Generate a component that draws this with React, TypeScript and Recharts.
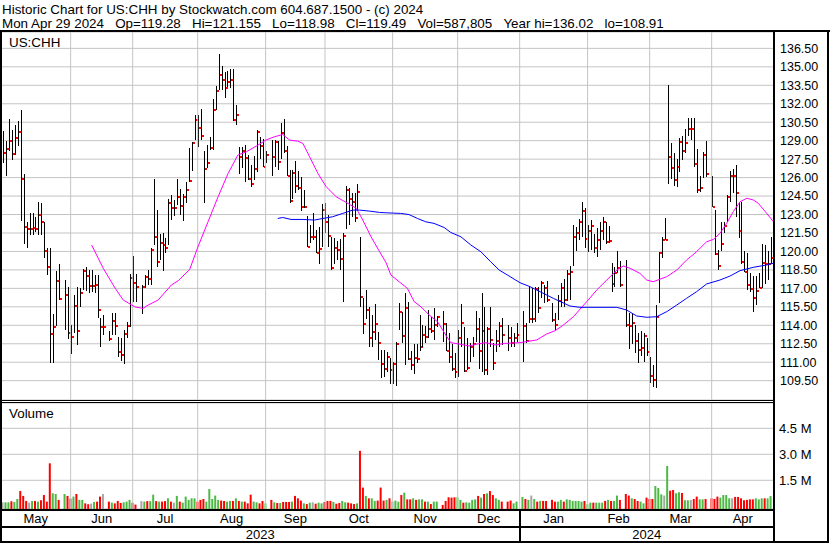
import React from 'react';
import { ComposedChart, Bar, Line, XAxis, YAxis, CartesianGrid, ReferenceLine, Cell } from 'recharts';

const FONT = '"Liberation Sans", Arial, Helvetica, sans-serif';

const titleLine1 = 'Historic Chart for US:CHH by Stockwatch.com 604.687.1500 - (c) 2024';
const titleLine2 = 'Mon Apr 29 2024   Op=119.28   Hi=121.155   Lo=118.98   Cl=119.49   Vol=587,805   Year hi=136.02   lo=108.91';
const symbolLabel = 'US:CHH';
const volumeLabel = 'Volume';

// weekday slots (from May 1 2023) that were market holidays: empty slots on the chart
const holidays = [20, 35, 46, 90, 148, 170, 175, 185, 210, 239];

// one row per trading day, month by month (May 2023 .. Apr 2024)
const highs = [
  129.8,129.0,130.8,129.9,130.3,130.6,131.5,126.3,122.4,123.1,123.1,122.8,124.0,123.9,122.4,120.25,120.3,114.9,118.4,119.0,117.7,117.1,
  114.0,116.5,117.1,117.0,118.6,118.75,118.5,118.5,118.1,118.1,114.56,114.83,113.5,114.97,115.0,113.07,113.0,113.6,114.3,118.2,119.6,
  118.2,117.3,118.1,118.5,120.25,125.9,123.4,121.4,121.5,121.06,124.25,124.6,124.2,125.85,125.1,124.65,125.66,128.37,128.9,131.07,
  131.07,131.6,128.15,128.64,129.3,132.35,133.45,136.02,135.05,134.6,134.65,134.8,134.8,131.88,128.5,128.5,128.64,127.83,127.0,127.75,129.86,129.3,129.15,
  128.15,129.05,129.05,129.0,130.4,130.75,128.56,126.6,126.6,127.34,126.55,126.07,124.98,122.9,122.14,123.09,121.74,122.0,123.85,123.9,
  122.95,121.19,121.08,120.84,121.0,121.46,125.31,125.12,124.71,124.71,125.52,121.14,116.19,116.86,115.5,114.83,115.73,113.43,112.0,112.0,111.86,111.32,
  111.05,112.68,115.79,115.11,116.6,115.86,111.92,112.46,112.46,114.8,114.02,113.94,115.25,114.7,115.38,114.76,115.17,114.16,113.35,112.46,111.78,
  113.62,115.7,113.83,112.94,112.53,113.07,115.17,114.62,116.6,115.5,113.88,115.5,112.53,113.62,114.29,114.56,114.02,113.88,113.35,114.16,
  115.19,114.16,117.14,117.0,117.14,117.14,117.62,117.27,117.62,115.78,114.97,116.46,117.41,117.73,118.48,118.81,122.14,122.0,122.63,123.98,123.5,
  122.14,122.55,121.38,121.87,122.41,122.76,122.41,122.06,119.08,118.76,120.05,119.25,119.3,114.97,114.97,114.02,113.35,113.5,113.35,113.0,
  111.46,110.78,115.64,119.98,121.19,122.68,133.51,128.78,127.96,127.5,129.23,129.42,129.91,130.88,130.88,130.88,128.29,126.12,128.1,128.99,
  126.12,123.36,120.11,122.41,122.41,124.58,126.55,126.66,127.01,124.04,124.04,120.03,119.84,118.21,118.0,118.0,118.21,120.6,120.52,120.03,121.155,
];
const lows = [
  127.2,126.1,128.2,127.4,127.8,128.6,122.5,120.6,120.3,121.3,121.3,121.6,121.3,121.3,119.5,118.1,110.95,110.9,113.95,116.05,113.6,112.9,
  111.7,113.35,112.4,115.5,116.9,116.8,116.6,116.7,116.6,114.6,112.2,113.2,112.7,113.2,113.2,111.4,111.06,110.85,112.95,113.9,115.9,
  115.9,114.9,117.0,117.27,117.27,120.5,118.76,119.3,118.4,119.84,120.5,122.55,122.9,123.8,122.95,122.5,123.9,125.66,126.5,129.04,
  128.5,129.04,123.9,126.75,128.23,128.23,131.5,133.1,133.15,132.43,133.38,133.24,130.6,130.26,126.3,126.74,125.66,125.8,125.25,125.8,126.47,127.5,126.87,
  127.2,126.12,126.87,126.6,127.5,127.96,126.12,123.9,124.23,124.77,124.98,123.31,123.5,120.33,120.65,120.92,119.84,118.97,120.38,121.46,
  120.38,118.48,118.97,119.3,118.48,115.9,121.79,122.14,122.76,122.41,123.36,115.5,113.3,114.48,112.2,112.26,112.8,111.19,109.7,109.83,110.24,109.27,
  109.19,109.1,113.62,112.53,110.78,111.19,110.37,110.02,110.97,111.92,112.26,112.53,112.94,113.35,112.8,113.9,112.67,111.92,110.97,110.29,109.7,
  109.8,112.26,110.24,110.37,111.0,111.46,112.64,110.43,110.2,110.0,110.0,112.26,110.37,111.86,112.26,112.4,111.92,112.26,112.26,112.67,
  111.05,112.59,114.16,114.16,114.29,114.97,116.19,115.78,115.92,114.29,113.62,114.42,115.51,115.51,115.99,116.05,118.84,120.03,120.92,121.19,120.25,
  119.92,120.11,119.84,119.52,120.11,120.92,120.57,120.65,116.73,117.14,118.21,117.14,113.88,112.04,112.48,111.73,110.97,111.5,111.05,111.5,
  109.3,108.97,108.91,115.83,119.43,120.92,125.52,125.85,125.31,125.26,126.47,127.47,128.02,129.37,129.05,126.88,124.77,124.85,125.93,126.07,
  123.63,119.7,118.48,120.05,121.46,122.41,124.04,124.71,122.81,121.06,118.97,118.35,116.86,116.73,115.1,115.64,117.0,117.0,117.35,117.68,118.98,
];
const closes = [
  128.0,128.3,129.0,127.9,129.2,129.7,125.9,122.0,121.85,121.85,121.9,121.85,123.0,122.4,120.05,118.75,113.3,113.9,117.6,116.1,116.5,113.4,
  113.07,115.6,113.5,116.65,118.4,118.0,117.2,117.2,117.3,115.25,113.9,113.9,112.9,114.37,113.96,111.8,111.6,113.3,113.97,117.85,117.45,
  117.13,117.13,117.94,117.78,120.1,121.2,119.17,120.7,120.5,120.3,123.9,123.55,123.55,124.4,123.7,124.44,125.0,125.74,128.83,130.67,
  130.05,129.4,126.66,127.2,128.37,131.5,133.05,134.3,133.9,133.3,133.8,133.97,130.67,131.07,127.69,128.18,127.56,125.9,125.47,126.72,129.72,128.56,126.9,
  127.86,127.67,128.88,127.26,129.64,128.15,126.12,124.09,126.39,125.31,125.15,123.58,123.63,120.38,121.19,121.19,119.9,120.19,123.33,122.41,
  121.27,118.64,120.25,120.11,119.41,121.27,124.98,124.28,123.98,122.73,124.85,116.32,114.08,115.25,112.99,113.45,114.08,112.53,110.83,110.42,111.46,110.38,
  110.86,112.46,115.04,113.15,115.43,111.3,110.78,111.38,111.3,112.26,113.2,113.07,113.72,113.56,114.02,114.7,114.08,111.92,111.46,110.43,110.24,
  112.99,114.21,110.29,110.5,112.26,112.48,113.72,111.92,113.56,110.37,113.72,112.8,110.9,112.72,113.97,113.18,112.99,112.58,112.94,113.24,
  113.97,112.72,114.53,114.53,116.95,115.43,117.46,117.05,116.05,114.42,114.02,115.97,117.0,116.02,118.13,118.3,121.19,121.52,122.41,123.31,121.0,
  121.65,122.09,120.25,120.92,121.68,122.41,120.79,120.84,117.35,118.27,118.62,117.27,114.02,113.97,114.16,112.75,112.0,112.13,113.15,111.86,
  109.84,109.52,114.66,119.89,120.97,120.97,127.69,126.79,125.8,126.88,128.91,128.18,128.83,129.96,129.96,127.1,124.98,125.17,127.86,126.28,
  123.63,119.78,118.81,120.62,122.06,124.44,126.12,126.12,124.77,121.68,119.16,118.35,117.27,116.97,116.24,116.81,117.02,119.03,118.94,118.97,119.49,
];
// daily volume, millions of shares
const volumes = [
  0.23,0.23,0.23,0.29,0.25,0.42,0.88,0.6,0.31,0.21,0.31,0.31,0.27,0.35,0.65,0.27,2.48,0.75,0.71,0.37,0.71,0.6,
  0.44,0.56,0.71,0.37,0.37,0.17,0.12,0.15,0.25,0.27,0.56,0.71,0.27,0.21,0.17,0.31,0.19,0.23,0.27,0.37,0.2,
  0.1,0.3,0.27,0.3,0.3,0.67,0.3,0.27,0.27,0.3,0.46,0.27,0.21,0.6,0.27,0.21,0.56,0.37,0.46,0.46,
  0.27,0.37,0.42,0.27,1.0,0.42,0.62,0.37,0.33,0.31,0.27,0.31,0.31,0.46,0.31,0.27,0.27,0.17,0.67,0.27,0.23,0.17,0.31,
  0.17,0.37,0.23,0.19,0.19,0.25,0.25,0.25,0.27,0.6,0.46,0.33,0.17,0.13,0.21,0.23,0.15,0.21,0.17,0.25,
  0.31,0.31,0.25,0.15,0.19,0.31,0.23,0.21,0.17,0.13,0.17,3.2,1.08,0.6,0.46,0.46,0.31,0.33,1.08,0.33,0.37,0.46,
  0.27,0.33,0.27,0.65,0.79,0.4,0.4,0.46,0.37,0.4,0.4,0.27,0.27,0.13,0.27,0.27,0.08,0.31,0.52,0.5,0.52,
  0.52,0.37,0.21,0.23,0.21,0.37,0.4,0.6,0.5,0.71,0.75,0.88,0.65,0.46,0.37,0.27,0.27,0.33,0.17,0.27,
  0.54,0.42,0.37,0.62,0.42,0.27,0.31,0.31,0.31,0.37,0.27,0.27,0.37,0.27,0.4,0.37,0.31,0.31,0.31,0.27,0.31,
  0.12,0.21,0.21,0.21,0.21,0.21,0.31,0.37,0.31,0.31,0.62,0.37,0.71,0.62,0.46,0.42,0.31,0.27,0.17,0.5,
  0.42,0.42,1.17,1.06,0.69,0.62,2.33,0.9,0.94,0.75,0.81,0.77,0.35,0.35,0.37,0.42,0.56,0.4,0.4,0.42,
  0.46,0.42,0.56,0.5,0.65,0.65,0.46,0.46,0.54,0.54,0.46,0.35,0.37,0.4,0.4,0.46,0.4,0.46,0.46,0.46,0.59,
];

// moving averages: [weekday slot, value]
const magentaMA = [
  [30,120.52],[34,118.6],[38,117.0],[40.7,116.05],[42.3,115.83],[44.6,115.5],[47.4,115.37],[49.1,115.64],[52.5,116.05],[57,117.27],
  [59.3,117.62],[63.2,118.54],[66,120.38],[69.4,122.41],[72.8,124.44],[76.2,126.34],[79.5,127.83],[82.4,128.1],[86.3,128.64],[89,129.05],
  [91.9,129.32],[94.7,129.5],[97,129.05],[99.8,128.96],[101.5,128.78],[103.8,127.69],[106.6,126.34],[109.4,125.26],[112.8,124.44],[116.2,123.98],
  [119.6,123.5],[121.8,122.55],[124.6,121.19],[127.5,119.97],[129.7,119.08],[131.3,118.08],[134.1,117.54],[136.9,117.0],[139.2,115.92],[141.5,115.5],
  [144.3,114.83],[147.1,114.29],[149.9,113.2],[151.6,112.59],[154.4,112.48],[157.8,112.32],[160.6,112.48],[163.4,112.59],[166.8,112.4],[169.7,112.53],
  [175,112.59],[180.7,112.81],[184,113.29],[186.9,113.56],[189.7,114.02],[193.1,114.7],[197.6,115.92],[201,116.87],[204.4,117.68],[207.8,118.49],
  [210,118.82],[212.3,118.63],[215.6,118.22],[217.9,117.68],[220.1,117.54],[224.7,117.95],[228.1,118.49],[231.4,119.3],[234.8,119.98],[238.2,120.79],
  [240.5,120.98],[242.7,121.47],[245,122.29],[247.2,123.23],[249.5,124.04],[251.8,124.32],[254,124.18],[255.7,123.91],[258.5,123.1],[260.8,122.42],
];
const blueMA = [
  [93,122.68],[94.7,122.76],[97.5,122.6],[101.5,122.6],[105.4,122.55],[108.3,122.68],[111.6,122.82],[115,123.09],[118.4,123.36],[120.6,123.36],
  [124,123.28],[127.5,123.17],[129.7,123.14],[134.6,123.09],[137.4,123.0],[140.3,122.68],[143.1,122.41],[145.9,122.28],[149.3,121.95],[151.6,121.54],
  [155,121.19],[158.4,120.52],[161.8,119.97],[165.1,119.16],[168,118.48],[170.8,118.08],[175,117.46],[178.4,117.14],[181.8,116.73],[186.3,116.19],
  [191.9,115.57],[195.3,115.46],[207.8,115.46],[211.1,115.24],[214.5,114.76],[217.9,114.65],[221.3,114.7],[224.7,115.11],[228.1,115.65],[231.4,116.19],
  [234.8,116.73],[238.2,117.36],[242.7,117.68],[246.1,118.0],[249.5,118.44],[254,118.71],[258.5,118.9],[260.8,119.04],
];

const monthBoundaries = [22.9, 43.9, 65.9, 88.9, 109, 131.9, 153.9, 174.9, 197.9, 218.9, 239.9];
const monthNames = ['May', 'Jun', 'Jul', 'Aug', 'Sep', 'Oct', 'Nov', 'Dec', 'Jan', 'Feb', 'Mar', 'Apr'];
const yearBoundary = 174.9;
const yearNames = ['2023', '2024'];
const priceTicks = [109.5, 111, 112.5, 114, 115.5, 117, 118.5, 120, 121.5, 123, 124.5, 126, 127.5, 129, 130.5, 132, 133.5, 135, 136.5];
const volumeTicks = [1.5, 3.0, 4.5];

const X_DOMAIN: [number, number] = [-0.68, 261.0];
const PRICE_DOMAIN: [number, number] = [107.93, 137.83];
const VOL_DOMAIN: [number, number] = [-0.156, 5.96];

const GRID = '#c4c4c4';
const UP = '#4cb944';
const DOWN = '#ff0000';
const FLAT = '#a6a6a6';

// build table
const slots: number[] = [];
for (let w = 0; slots.length < highs.length; w++) {
  if (!holidays.includes(w)) slots.push(w);
}
const rows = highs.map((h, i) => ({
  x: slots[i],
  h,
  l: lows[i],
  c: closes[i],
  v: volumes[i],
  dir: i === 0 ? 0 : Math.sign(closes[i] - closes[i - 1]),
}));
const magentaData = magentaMA.map(([x, m]) => ({ x, m }));
const blueData = blueMA.map(([x, m]) => ({ x, m }));

const monthEdges = [X_DOMAIN[0], ...monthBoundaries, X_DOMAIN[1]];
const monthMids = monthNames.map((_, i) => (monthEdges[i] + monthEdges[i + 1]) / 2);
const yearEdges = [X_DOMAIN[0], yearBoundary, X_DOMAIN[1]];
const yearMids = yearNames.map((_, i) => (yearEdges[i] + yearEdges[i + 1]) / 2);

// keep runs of spaces visible in SVG text
const keepSpaces = (s: string) => s.replace(/ {2,}/g, (m) => ' ' + '\u00a0'.repeat(m.length - 1));

const OhlcShape = (props: any) => {
  const { x, y, width, height, payload } = props;
  if (x == null || y == null || !payload) return null;
  const cx = Math.round(x + width / 2);
  const top = Math.round(y);
  const bottom = Math.round(y + height);
  const span = payload.h - payload.l;
  const yc = span > 0 ? y + ((payload.h - payload.c) / span) * height : y;
  return (
    <g shapeRendering="crispEdges">
      <rect x={cx} y={top} width={1} height={Math.max(bottom - top, 1)} fill="#000" />
      <rect x={cx + 1} y={Math.round(yc) - 1} width={2} height={2} fill="#ff0000" />
    </g>
  );
};

const MonthTick = (props: any) => {
  const { x, y, payload } = props;
  const i = monthMids.indexOf(payload.value);
  return (
    <text x={x} y={y + 14} textAnchor="middle" fontFamily={FONT} fontSize={13} fill="#000">
      {monthNames[i] ?? ''}
    </text>
  );
};

const YearTick = (props: any) => {
  const { x, y, payload } = props;
  if (payload.value === yearBoundary) {
    return <rect x={Math.round(x) - 1} y={y - 17} width={2} height={32} fill="#000" />;
  }
  const i = yearMids.indexOf(payload.value);
  return (
    <text x={x} y={y + 13} textAnchor="middle" fontFamily={FONT} fontSize={13} fill="#000">
      {yearNames[i] ?? ''}
    </text>
  );
};

const colorOf = (d: number) => (d > 0 ? UP : d < 0 ? DOWN : FLAT);

export default function App() {
  return (
    <div style={{ position: 'absolute', left: 0, top: 0, width: 830, height: 543, background: '#fff', overflow: 'hidden' }}>
      <div style={{ position: 'absolute', left: 0, top: 32 }}>
        <ComposedChart width={830} height={368} data={rows} margin={{ top: 0, right: 0, bottom: 0, left: 1 }}>
          <XAxis dataKey="x" type="number" domain={X_DOMAIN} allowDataOverflow hide />
          <YAxis
            orientation="right"
            type="number"
            domain={PRICE_DOMAIN}
            allowDataOverflow
            ticks={priceTicks}
            interval={0}
            width={56}
            tickSize={0}
            tickMargin={6}
            tickLine={false}
            axisLine={{ stroke: '#000', strokeWidth: 2 }}
            tickFormatter={(v: number) => v.toFixed(2)}
            tick={{ fill: '#000', fontSize: 12.5, fontFamily: FONT }}
          />
          <CartesianGrid vertical={false} stroke={GRID} strokeWidth={1} />
          {monthBoundaries.map((b) => (
            <ReferenceLine key={b} x={b} stroke={GRID} strokeWidth={1} />
          ))}
          <Bar dataKey={(d: any) => [d.l, d.h]} shape={OhlcShape} barSize={1} isAnimationActive={false} />
          <Line data={magentaData} dataKey="m" type="linear" stroke="#ff00ff" strokeWidth={1} dot={false} activeDot={false} isAnimationActive={false} />
          <Line data={blueData} dataKey="m" type="linear" stroke="#0000ff" strokeWidth={1} dot={false} activeDot={false} isAnimationActive={false} />
        </ComposedChart>
      </div>
      <div style={{ position: 'absolute', left: 0, top: 403 }}>
        <ComposedChart width={830} height={140} data={rows} margin={{ top: 0, right: 0, bottom: 0, left: 1 }}>
          <XAxis
            xAxisId="m"
            dataKey="x"
            type="number"
            domain={X_DOMAIN}
            allowDataOverflow
            ticks={monthMids}
            interval={0}
            height={17}
            axisLine={false}
            tickLine={false}
            tickSize={0}
            tickMargin={0}
            tick={<MonthTick />}
          />
          <XAxis
            xAxisId="y"
            dataKey="x"
            type="number"
            domain={X_DOMAIN}
            allowDataOverflow
            ticks={[...yearMids, yearBoundary]}
            interval={0}
            height={17}
            axisLine={false}
            tickLine={false}
            tickSize={0}
            tickMargin={0}
            tick={<YearTick />}
          />
          <YAxis
            orientation="right"
            type="number"
            domain={VOL_DOMAIN}
            allowDataOverflow
            ticks={volumeTicks}
            interval={0}
            width={56}
            tickSize={0}
            tickMargin={5}
            tickLine={false}
            axisLine={{ stroke: '#000', strokeWidth: 2 }}
            tickFormatter={(v: number) => `${v.toFixed(1)} M`}
            tick={{ fill: '#000', fontSize: 13, fontFamily: FONT }}
          />
          <CartesianGrid xAxisId="m" vertical={false} stroke={GRID} strokeWidth={1} />
          {monthBoundaries.map((b) => (
            <ReferenceLine key={b} xAxisId="m" x={b} stroke={GRID} strokeWidth={1} />
          ))}
          <Bar xAxisId="m" dataKey={(d: any) => [VOL_DOMAIN[0], d.v]} barSize={2} isAnimationActive={false}>
            {rows.map((r, i) => (
              <Cell key={i} fill={colorOf(r.dir)} />
            ))}
          </Bar>
        </ComposedChart>
      </div>
      <svg width={830} height={543} style={{ position: 'absolute', left: 0, top: 0, pointerEvents: 'none' }}>
        <text x={2} y={14} fontFamily={FONT} fontSize={13.4} fill="#000">{keepSpaces(titleLine1)}</text>
        <text x={2} y={28} fontFamily={FONT} fontSize={13.4} fill="#000">{keepSpaces(titleLine2)}</text>
        <text x={9} y={47} fontFamily={FONT} fontSize={13.4} fill="#000">{symbolLabel}</text>
        <text x={9} y={418} fontFamily={FONT} fontSize={13.4} fill="#000">{volumeLabel}</text>
        <rect x={0} y={30} width={830} height={2} fill="#000" />
        <rect x={0} y={30} width={2} height={513} fill="#000" />
        <rect x={773} y={30} width={2} height={513} fill="#000" />
        <rect x={827} y={30} width={2} height={513} fill="#000" />
        <rect x={0} y={400} width={775} height={1} fill="#000" />
        <rect x={0} y={402} width={775} height={1} fill="#000" />
        <rect x={0} y={509} width={775} height={2} fill="#000" />
        <rect x={0} y={526} width={775} height={2} fill="#000" />
        <rect x={0} y={541} width={829} height={2} fill="#000" />
      </svg>
    </div>
  );
}
